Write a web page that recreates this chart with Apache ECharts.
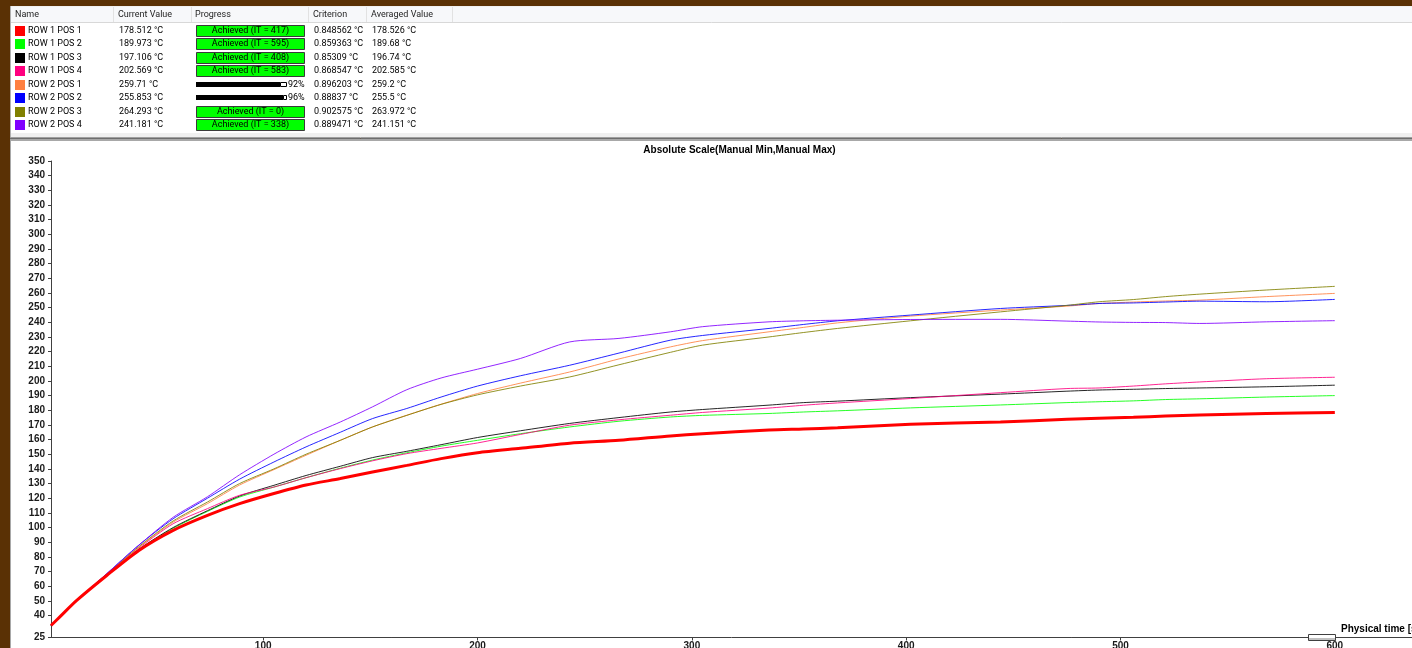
<!DOCTYPE html>
<html>
<head>
<meta charset="utf-8">
<script src="https://cdn.jsdelivr.net/npm/echarts@6/dist/echarts.min.js"></script>
<style>
  html, body { margin: 0; padding: 0; background: #5a3105; overflow: hidden; }
  #chart { width: 1412px; height: 648px; }
</style>
</head>
<body>
<div id="chart"></div>
<script>
// Sample times (s) shared by all probes
const timeSec = [1, 5, 13, 27, 42, 58, 74, 89, 105, 120, 136, 151, 167, 183, 200, 220, 243, 266, 290, 305, 336, 352, 368, 402, 444, 475, 490, 506, 521, 537, 568, 600];

// Temperatures (°C) per probe
const row1Pos1 = [33.2, 38.9, 50.3, 67.3, 84.4, 98.1, 108.3, 116.3, 123.2, 129, 133.4, 137.9, 142.4, 147, 151, 154, 157.5, 159.5, 162.5, 164, 166.5, 167.2, 168, 170.4, 172, 173.8, 174.6, 175.2, 176.1, 176.8, 177.8, 178.5];
const row1Pos2 = [33.2, 38.9, 50.3, 67.5, 85, 99.5, 111, 120.8, 127.6, 134, 140.5, 146, 151, 155.5, 159.5, 164, 168.6, 172.5, 175.4, 176.5, 177.8, 178.8, 179.6, 181.6, 183.6, 185.2, 185.8, 186.4, 187.3, 187.8, 189, 190];
const row1Pos3 = [33.2, 38.9, 50.3, 67.6, 85.2, 100, 111.5, 121.5, 128.8, 135.5, 141.8, 147.7, 152, 156.5, 161.4, 166, 171, 175, 178.8, 180.5, 183.5, 185.2, 186.2, 188.6, 191, 193, 193.8, 194.3, 194.8, 195.2, 196, 197.1];
const row1Pos4 = [33.2, 38.9, 50.3, 68, 86, 102.6, 112.9, 122, 127.6, 134, 140.2, 145.5, 150.4, 154, 157.7, 163.5, 169.8, 173.5, 176.6, 178.5, 181.5, 183.4, 185, 188, 192, 194.8, 195.2, 196.5, 198, 199.3, 201.5, 202.5];
const row2Pos1 = [33.2, 38.9, 50.3, 68, 86.5, 103.7, 116.3, 129, 139.5, 149.3, 159.5, 168.6, 176.6, 184.1, 191.4, 198.5, 206.1, 215, 223.2, 227.5, 233.5, 236.5, 239.6, 244.2, 248.3, 251, 252.8, 253.8, 254.5, 255.1, 257.5, 259.7];
const row2Pos2 = [33.2, 38.9, 50.3, 68.5, 88, 106, 120, 133, 144.7, 155, 165, 174.3, 181.2, 189, 196.5, 203.5, 210.7, 219, 227.8, 231, 235.8, 238.5, 241, 244.9, 249.4, 251.5, 252.8, 253.2, 253.8, 254.4, 254, 255.6];
const row2Pos3 = [33.2, 38.9, 50.3, 68.2, 87, 104.5, 117.4, 130, 140, 150, 159.5, 168.6, 176.5, 184, 190.5, 196.5, 202.7, 211, 219.5, 224.4, 230, 233, 235.8, 241, 247.1, 251.5, 254, 255.5, 257.5, 259.2, 262, 264.5];
const row2Pos4 = [33.2, 38.9, 50.3, 68.5, 88, 107, 121, 136, 150, 161.8, 172, 182.3, 194, 202, 208, 215.3, 226.6, 229, 233.5, 237, 240.3, 241, 241.4, 241.9, 242, 240.8, 240.2, 239.9, 239.8, 239.2, 240.3, 241.1];

// Probe table
const probeNames = ['ROW 1 POS 1', 'ROW 1 POS 2', 'ROW 1 POS 3', 'ROW 1 POS 4', 'ROW 2 POS 1', 'ROW 2 POS 2', 'ROW 2 POS 3', 'ROW 2 POS 4'];
const currentValue = [178.512, 189.973, 197.106, 202.569, 259.71, 255.853, 264.293, 241.181];
const achievedIT = [417, 595, 408, 583, null, null, 0, 338];
const progressPct = [null, null, null, null, 92, 96, null, null];
const criterion = [0.848562, 0.859363, 0.85309, 0.868547, 0.896203, 0.88837, 0.902575, 0.889471];
const averagedValue = [178.526, 189.68, 196.74, 202.585, 259.2, 255.5, 263.972, 241.151];
const tableHeaders = ['Name', 'Current Value', 'Progress', 'Criterion', 'Averaged Value'];

// Axis tick values
const yTicks = [25, 40, 50, 60, 70, 80, 90, 100, 110, 120, 130, 140, 150, 160, 170, 180, 190, 200, 210, 220, 230, 240, 250, 260, 270, 280, 290, 300, 310, 320, 330, 340, 350];
const xTicks = [100, 200, 300, 400, 500, 600];

const chartTitle = 'Absolute Scale(Manual Min,Manual Max)';
const xAxisName = 'Physical time [s]';

const probeSeries = [row1Pos1, row1Pos2, row1Pos3, row1Pos4, row2Pos1, row2Pos2, row2Pos3, row2Pos4];
const probeColors = ['#ff0000', '#00ff00', '#000000', '#ff0080', '#ff8040', '#0000ff', '#808000', '#8000ff'];

const tableFont = '9px Roboto, "Liberation Sans", sans-serif';
const boldFont = 'bold 10px "Liberation Sans", Arial, sans-serif';

function rect(x, y, w, h, fill, stroke, z) {
  return { type: 'rect', z: z == null ? -5 : z, silent: true,
    shape: { x: x, y: y, width: w, height: h },
    style: { fill: fill, stroke: stroke || null, lineWidth: stroke ? 1 : 0 } };
}
function line(x1, y1, x2, y2, color, z) {
  return { type: 'line', z: z == null ? -4 : z, silent: true,
    shape: { x1: x1, y1: y1, x2: x2, y2: y2 },
    style: { stroke: color, lineWidth: 1 } };
}
function text(str, x, y, font, align, fill, z) {
  return { type: 'text', z: z == null ? 5 : z, silent: true, x: x, y: y,
    style: { text: str, font: font, fill: fill || '#000', align: align || 'left', verticalAlign: 'middle' } };
}

const elements = [];
// table panel
elements.push(rect(10, 6, 1402, 132, '#f0f0f0'));
elements.push(rect(11, 7, 1401, 16, '#f7f8fa'));
elements.push(rect(11, 23, 1401, 110, '#ffffff'));
elements.push(line(11, 22.5, 1412, 22.5, '#d8d8d8'));
elements.push(line(10.5, 6, 10.5, 138, '#b0b0b0'));
[113.5, 191.5, 308.5, 366.5, 452.5].forEach(function (x) {
  elements.push(line(x, 7, x, 22, '#e2e2e2'));
});
const headerX = [15, 118, 195, 313, 371];
tableHeaders.forEach(function (h, i) {
  elements.push(text(h, headerX[i], 15, tableFont, 'left', '#1e1e1e'));
});
probeNames.forEach(function (name, i) {
  const cy = 30.7 + i * 13.47;
  elements.push(rect(15, Math.round(cy) - 5, 10, 10, probeColors[i], null, 1));
  elements.push(text(name, 28, cy, tableFont));
  elements.push(text(currentValue[i] + ' °C', 119, cy, tableFont));
  if (achievedIT[i] !== null) {
    elements.push(rect(196.5, Math.round(cy) - 5.5, 108, 11, '#00ff00', '#3a3a3a', 1));
    elements.push(text('Achieved (IT = ' + achievedIT[i] + ')', 250.5, cy, tableFont, 'center'));
  } else {
    const full = 91;
    const filled = Math.round(full * progressPct[i] / 100);
    elements.push(rect(196, Math.round(cy) - 3, filled, 5, '#000000', null, 1));
    elements.push(rect(196 + filled + 0.5, Math.round(cy) - 2.5, full - filled - 1, 4, '#ffffff', '#000000', 1));
    elements.push(text(progressPct[i] + '%', 196 + full + 1, cy, tableFont));
  }
  elements.push(text(criterion[i] + ' °C', 314, cy, tableFont));
  elements.push(text(averagedValue[i] + ' °C', 372, cy, tableFont));
});
// panel separator and chart panel
elements.push(line(10, 137.5, 1412, 137.5, '#a0a0a0'));
elements.push(line(10, 138.5, 1412, 138.5, '#6e6e6e'));
elements.push(rect(10, 139, 1402, 509, '#a8a8a8'));
elements.push(rect(11, 141, 1401, 507, '#ffffff'));
// chart title and axis caption
elements.push(text(chartTitle, 739.5, 150, boldFont, 'center', '#000'));
elements.push(text(xAxisName, 1341, 629, boldFont, 'left', '#000'));
// scroll thumb on the time axis
elements.push(rect(1308.5, 634.5, 27, 6, '#ffffff', '#404040', 10));
elements.push(rect(1309, 638, 26, 2, '#c0c0c0', null, 11));

const series = probeSeries.map(function (vals, i) {
  return {
    name: probeNames[i],
    type: 'line',
    data: timeSec.map(function (t, k) { return [t, vals[k]]; }),
    showSymbol: false,
    smooth: 0.25,
    z: i === 0 ? 4 : 3,
    lineStyle: { color: probeColors[i], width: i === 0 ? 3 : 1, opacity: i === 0 ? 1 : 0.85 },
    itemStyle: { color: probeColors[i] }
  };
});

const chart = echarts.init(document.getElementById('chart'), null, { renderer: 'canvas' });
chart.setOption({
  animation: false,
  backgroundColor: '#5a3105',
  graphic: { elements: elements },
  grid: { left: 51, right: 0, top: 161, bottom: 10.5, containLabel: false, outerBoundsMode: 'none' },
  xAxis: {
    type: 'value', min: 1, max: 636,
    axisLine: { show: true, onZero: false, lineStyle: { color: '#404040', width: 1 } },
    axisTick: { show: true, customValues: xTicks, length: 3, lineStyle: { color: '#404040' } },
    axisLabel: { customValues: xTicks, margin: 4, color: '#1a1a1a', fontSize: 10, fontWeight: 'bold', fontFamily: '"Liberation Sans", Arial, sans-serif' },
    splitLine: { show: false }
  },
  yAxis: {
    type: 'value', min: 25, max: 350,
    axisLine: { show: true, lineStyle: { color: '#404040', width: 1 } },
    axisTick: { show: true, customValues: yTicks, length: 3, lineStyle: { color: '#404040' } },
    axisLabel: { customValues: yTicks, margin: 6, color: '#1a1a1a', fontSize: 10, fontWeight: 'bold', fontFamily: '"Liberation Sans", Arial, sans-serif' },
    splitLine: { show: false }
  },
  series: series
});
</script>
</body>
</html>
